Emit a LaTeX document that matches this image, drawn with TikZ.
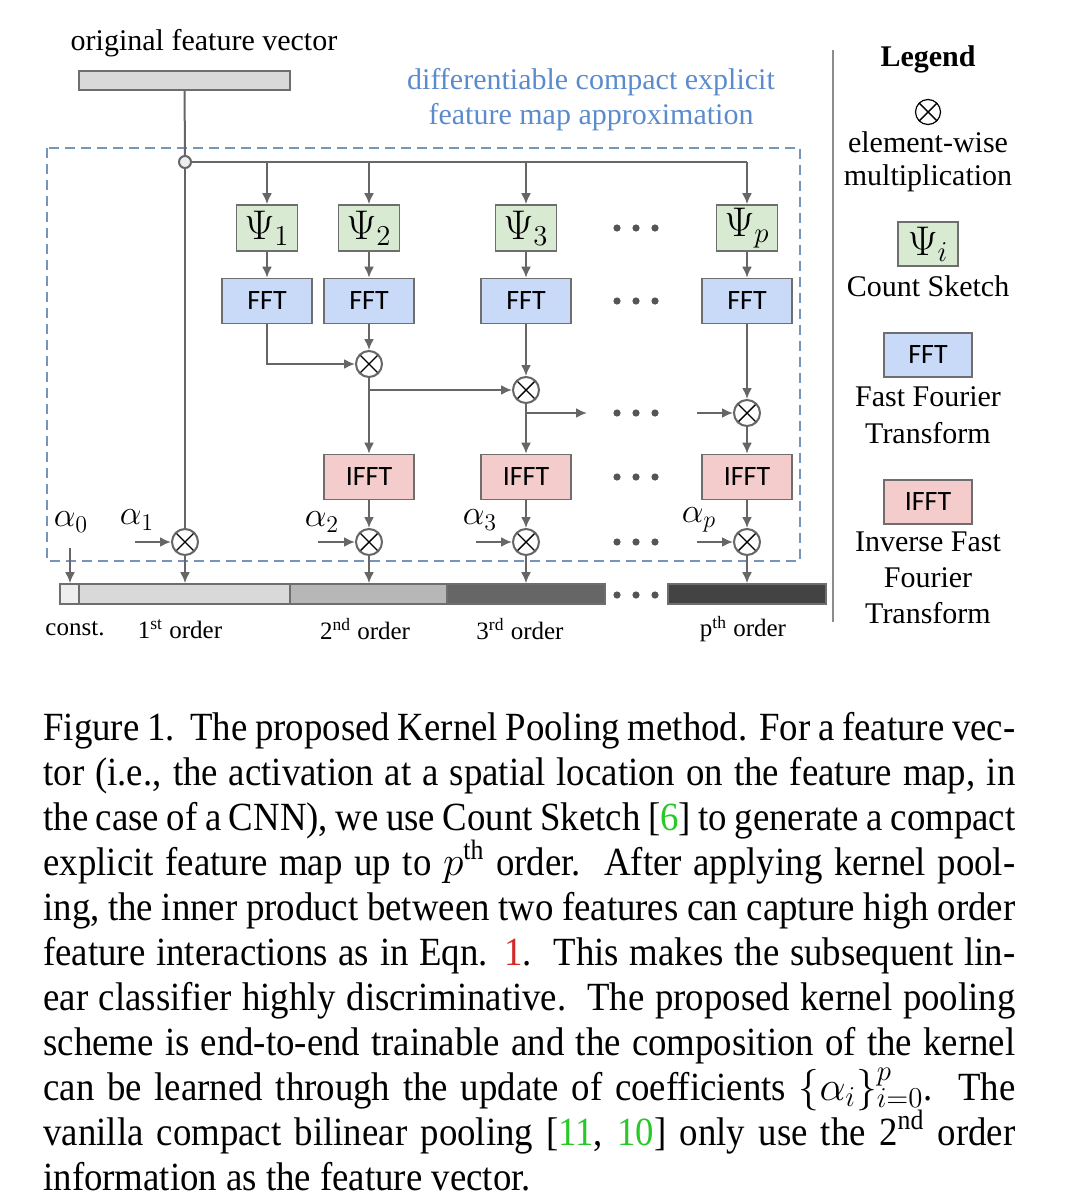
\documentclass[tikz,border=0pt]{standalone}
\usepackage[no-math]{fontspec}
\setmainfont{Liberation Serif}
\newfontfamily\boxfont{Carlito}
\newfontfamily\capfont[FakeStretch=0.92]{Liberation Serif}
\usetikzlibrary{arrows.meta,calc}
\definecolor{lgray}{RGB}{102,102,102}
\definecolor{bgray}{RGB}{110,110,110}
\definecolor{psigreen}{RGB}{217,234,211}
\definecolor{fftblue}{RGB}{201,218,248}
\definecolor{ifftpink}{RGB}{244,204,204}
\definecolor{dashblue}{RGB}{120,148,186}
\definecolor{txtblue}{RGB}{91,139,205}
\definecolor{sepgray}{RGB}{140,140,140}
\definecolor{dotgray}{RGB}{85,85,85}
\definecolor{cz}{RGB}{238,238,238}
\definecolor{cone}{RGB}{217,217,217}
\definecolor{ctwo}{RGB}{183,183,183}
\definecolor{cthree}{RGB}{102,102,102}
\definecolor{cp}{RGB}{67,67,67}
\definecolor{refgreen}{RGB}{40,200,40}
\definecolor{refred}{RGB}{210,40,40}
\begin{document}
\begin{tikzpicture}[x=0.5pt,y=-0.5pt,
  conn/.style={draw=lgray, line width=1pt},
  arr/.style={conn, -{Latex[length=5.5pt,width=5pt]}},
  blk/.style={draw=bgray, line width=0.8pt, inner sep=0pt, text=black},
  psibox/.style={blk, fill=psigreen, minimum width=30.5pt, minimum height=23pt, font=\fontsize{20.74}{22}\selectfont},
  fftbox/.style={blk, fill=fftblue, minimum width=45pt, minimum height=22.5pt, font=\boxfont\fontsize{14}{16}\selectfont},
  ifftbox/.style={fftbox, fill=ifftpink},
  mult/.style={circle, draw=lgray, line width=1pt, fill=white, minimum size=13pt, inner sep=0pt,
     path picture={\draw[black, line width=0.7pt]
       ($(path picture bounding box.center)+(-4.6pt,-4.6pt)$) -- ($(path picture bounding box.center)+(4.6pt,4.6pt)$)
       ($(path picture bounding box.center)+(-4.6pt,4.6pt)$) -- ($(path picture bounding box.center)+(4.6pt,-4.6pt)$);}},
  legmult/.style={mult, draw=black, line width=0.6pt},
  seg/.style={draw=bgray, line width=0.8pt, minimum height=10pt, inner sep=0pt},
  lbl/.style={inner sep=0pt, font=\fontsize{15}{17.5}\selectfont},
  smalllbl/.style={inner sep=0pt, font=\fontsize{12.5}{14}\selectfont},
  alab/.style={inner sep=0pt, font=\fontsize{17.28}{18}\selectfont},
  capline/.style={inner sep=0pt, anchor=base west, font=\capfont\fontsize{20}{22.5}\selectfont}
]
\useasboundingbox (0,0) rectangle (1080,1204);

% original feature vector
\node[lbl] (ofvlab) at (204,43) {original feature vector};
\node[seg, fill=cone, minimum width=105.5pt, minimum height=9.5pt] (ofv) at (184.5,80.5) {};

% blue label
\node[lbl, text=txtblue, align=center] (dlab) at (591,99.5) {differentiable compact explicit\\feature map approximation};

% dashed box
\draw[dashblue, line width=0.8pt, dash pattern=on 5pt off 3pt] (47,148) rectangle (800,561);

% split point
\node[circle, draw=lgray, line width=1pt, fill=cz, minimum size=6pt, inner sep=0pt] (sp) at (185,162) {};
\coordinate (hend) at (747,162);

% Psi boxes
\node[psibox] (psi1) at (267,228) {$\Psi_1$};
\node[psibox] (psi2) at (369,228) {$\Psi_2$};
\node[psibox] (psi3) at (526,228) {$\Psi_3$};
\node[psibox] (psip) at (747,228) {$\Psi_p$};

% FFT boxes
\node[fftbox] (fft1) at (267,301) {FFT};
\node[fftbox] (fft2) at (369,301) {FFT};
\node[fftbox] (fft3) at (526,301) {FFT};
\node[fftbox] (fftp) at (747,301) {FFT};

% multipliers
\node[mult] (m2) at (369,364) {};
\node[mult] (m3) at (526,390) {};
\node[mult] (mp) at (747,413) {};

% IFFT boxes
\node[ifftbox] (ifft2) at (369,477) {IFFT};
\node[ifftbox] (ifft3) at (526,477) {IFFT};
\node[ifftbox] (ifftp) at (747,477) {IFFT};

% bottom multipliers
\node[mult] (n1) at (185,542) {};
\node[mult] (n2) at (369,542) {};
\node[mult] (n3) at (526,542) {};
\node[mult] (np) at (747,542) {};

% bottom bar
\node[seg, fill=cz, minimum width=9.5pt] (s0) at (69.5,594) {};
\node[seg, fill=cone, minimum width=105.5pt] (s1) at (184.5,594) {};
\node[seg, fill=ctwo, minimum width=78.5pt] (s2) at (368.5,594) {};
\node[seg, fill=cthree, minimum width=79pt] (s3) at (526,594) {};
\node[seg, fill=cp, minimum width=79pt] (sp4) at (747,594) {};

% connectors
\draw[conn] (ofv) -- (sp);
\draw[conn] (sp) -- (n1);
\draw[conn] (sp) -- (hend);
\draw[arr] (psi1 |- sp) -- (psi1);
\draw[arr] (psi2 |- sp) -- (psi2);
\draw[arr] (psi3 |- sp) -- (psi3);
\draw[arr] (hend) -- (psip);
\draw[arr] (psi1) -- (fft1);
\draw[arr] (psi2) -- (fft2);
\draw[arr] (psi3) -- (fft3);
\draw[arr] (psip) -- (fftp);
\draw[arr] (fft1) |- (m2);
\draw[arr] (fft2) -- (m2);
\draw[arr] (m2) -- (ifft2);
\draw[arr] (m2 |- m3) -- (m3);
\draw[arr] (fft3) -- (m3);
\draw[arr] (m3) -- (ifft3);
\coordinate (b3) at (587,413);
\draw[arr] (m3 |- b3) -- (b3);
\coordinate (bp) at (697,413);
\draw[arr] (bp) -- (mp);
\draw[arr] (fftp) -- (mp);
\draw[arr] (mp) -- (ifftp);
\draw[arr] (ifft2) -- (n2);
\draw[arr] (ifft3) -- (n3);
\draw[arr] (ifftp) -- (np);

% alpha inputs
\coordinate (a0in) at (70,548);
\coordinate (a1in) at (135,542);
\coordinate (a2in) at (318,542);
\coordinate (a3in) at (476,542);
\coordinate (apin) at (697,542);
\draw[arr] (a0in) -- (a0in |- s0.north);
\draw[arr] (a1in) -- (n1);
\draw[arr] (a2in) -- (n2);
\draw[arr] (a3in) -- (n3);
\draw[arr] (apin) -- (np);
\draw[arr] (n1) -- (n1 |- s1.north);
\draw[arr] (n2) -- (n2 |- s2.north);
\draw[arr] (n3) -- (n3 |- s3.north);
\draw[arr] (np) -- (np |- sp4.north);

\node[alab] (al0) at (71,522) {$\alpha_0$};
\node[alab] (al1) at (137,520) {$\alpha_1$};
\node[alab] (al2) at (322,522) {$\alpha_2$};
\node[alab] (al3) at (480,520) {$\alpha_3$};
\node[alab] (alp) at (699,520) {$\alpha_p$};

% dots
\foreach \yy in {228,301,413,477,542,595}
  \foreach \xx in {617,636,655}
    \fill[dotgray] (\xx,\yy) circle (3.6);

% bottom labels
\node[smalllbl] (l0) at (75,629) {const.};
\node[smalllbl] (l1) at (180,629) {1\textsuperscript{st} order};
\node[smalllbl] (l2) at (365,629) {2\textsuperscript{nd} order};
\node[smalllbl] (l3) at (520,629) {3\textsuperscript{rd} order};
\node[smalllbl] (lp) at (743,629) {p\textsuperscript{th} order};

% separator
\draw[sepgray, line width=1pt] (833,50) -- (833,622);

% legend
\node[lbl, font=\fontsize{15}{17.5}\selectfont\bfseries] (leg) at (928,59) {Legend};
\node[legmult, minimum size=12.5pt] (legm) at (928,112) {};
\node[lbl] (leg1) at (928,142) {element-wise};
\node[lbl] (leg2) at (928,178) {multiplication};
\node[psibox, minimum width=30pt, minimum height=22pt] (legpsi) at (928,244) {$\Psi_i$};
\node[lbl] (leg3) at (928,286) {Count Sketch};
\node[fftbox, minimum width=44pt, minimum height=22pt] (legfft) at (928,355) {FFT};
\node[lbl] (leg4) at (928,397) {Fast Fourier};
\node[lbl] (leg5) at (928,433) {Transform};
\node[ifftbox, minimum width=44pt, minimum height=22pt] (legifft) at (928,502) {IFFT};
\node[lbl] (leg6) at (928,542) {Inverse Fast};
\node[lbl] (leg7) at (928,578) {Fourier};
\node[lbl] (leg8) at (928,613) {Transform};

% caption
\node[capline] (c1) at (43,740) {\makebox[486pt][s]{Figure 1.\ \ The proposed Kernel Pooling method. For a feature vec-}};
\node[capline] (c2) at (43,785) {\makebox[486pt][s]{tor (i.e., the activation at a spatial location on the feature map, in}};
\node[capline] (c3) at (43,830) {\makebox[486pt][s]{the case of a CNN), we use Count Sketch [\textcolor{refgreen}{6}] to generate a compact}};
\node[capline] (c4) at (43,875) {\makebox[486pt][s]{explicit feature map up to $p$\textsuperscript{th} order.\ \ After applying kernel pool-}};
\node[capline] (c5) at (43,920) {\makebox[486pt][s]{ing, the inner product between two features can capture high order}};
\node[capline] (c6) at (43,965) {\makebox[486pt][s]{feature interactions as in Eqn. \textcolor{refred}{1}.\ \ This makes the subsequent lin-}};
\node[capline] (c7) at (43,1010) {\makebox[486pt][s]{ear classifier highly discriminative.\ \ The proposed kernel pooling}};
\node[capline] (c8) at (43,1055) {\makebox[486pt][s]{scheme is end-to-end trainable and the composition of the kernel}};
\node[capline] (c9) at (43,1100) {\makebox[486pt][s]{can be learned through the update of coefficients $\{\alpha_i\}_{i=0}^{p}$.\ \ The}};
\node[capline] (c10) at (43,1145) {\makebox[486pt][s]{vanilla compact bilinear pooling [\textcolor{refgreen}{11}, \textcolor{refgreen}{10}] only use the 2\textsuperscript{nd} order}};
\node[capline] (c11) at (43,1190) {information as the feature vector.};
\end{tikzpicture}
\end{document}
